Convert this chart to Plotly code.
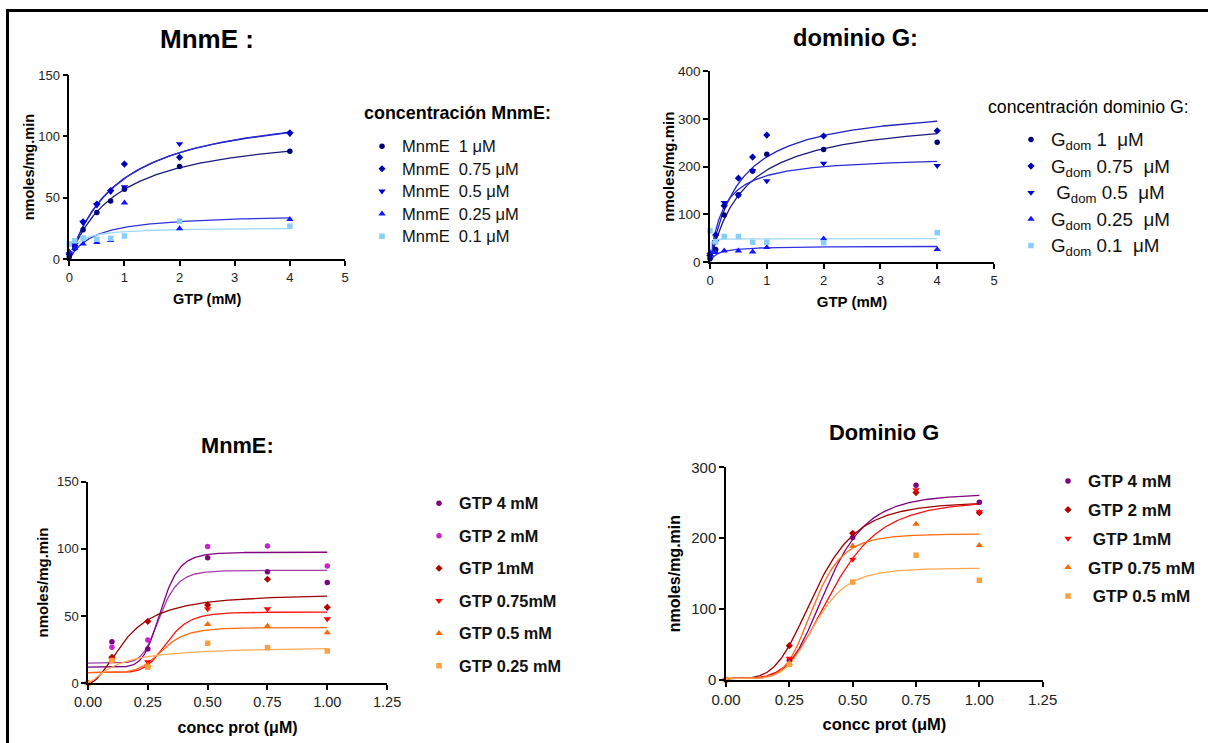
import numpy as np
import plotly.graph_objects as go

W, H = 1208, 743
FONT = "Arial, Liberation Sans, sans-serif"
NB = "\u00a0"

# ---------------- data: top panels (Michaelis-Menten) ----------------
gtp_mM = [0, 0.1, 0.25, 0.5, 0.75, 1, 2, 4]

mnme_names = ["MnmE" + NB*2 + "1" + NB + "μM", "MnmE" + NB*2 + "0.75" + NB + "μM",
              "MnmE" + NB*2 + "0.5" + NB + "μM", "MnmE" + NB*2 + "0.25" + NB + "μM",
              "MnmE" + NB*2 + "0.1" + NB + "μM"]
mnme_1uM = [2, 9, 24, 38, 47.5, 57, 75.5, 88]
mnme_075uM = [5, 11, 30.5, 45, 56, 77.5, 83, 103]
mnme_05uM = [3, 12, 30, 44, 55, 59, 94, 102]
mnme_025uM = [6, 9, 12.5, 13.8, 15.4, 46, 25, 32.5]
mnme_01uM = [12.5, 15, 17.3, 16.3, 17, 19, 31, 27]
mnme_vmax = [107.5, 126.7, 128, 37.5, 26]
mnme_km = [0.886, 0.919, 0.95, 0.444, 0.154]

gdom_names = ["G<sub>dom</sub>" + NB + "1" + NB*2 + "μM", "G<sub>dom</sub>" + NB + "0.75" + NB*2 + "μM",
              NB + "G<sub>dom</sub>" + NB + "0.5" + NB*2 + "μM", "G<sub>dom</sub>" + NB + "0.25" + NB*2 + "μM",
              "G<sub>dom</sub>" + NB + "0.1" + NB*2 + "μM"]
gdom_1uM = [8, 27, 99, 141, 191, 226, 236, 251]
gdom_075uM = [15, 57, 118, 176, 220, 266, 264, 275]
gdom_05uM = [12, 43, 125, 139, 191, 170, 207, 202]
gdom_025uM = [21, 21, 24, 24, 22, 31, 49.5, 27]
gdom_01uM = [66, 43, 54, 54, 42, 42, 41, 62]
gdom_vmax = [309.6, 332.6, 223.3, 34, 49.5]
gdom_km = [0.606, 0.51, 0.233, 0.12, 0.005]

blue_marker = ["#00007a", "#0000b4", "#0000d0", "#1515ff", "#87cefa"]
blue_line = ["#1a1a7a", "#1f1fc0", "#2a2ad0", "#3030e0", "#9fd8f8"]
top_symbols = ["circle", "diamond", "triangle-down", "triangle-up", "square"]

# ---------------- data: bottom panels (Hill) ----------------
prot_mnme = [0, 0.1, 0.25, 0.5, 0.75, 1.0]
bl_names = ["GTP 4 mM", "GTP 2 mM", "GTP 1mM", "GTP 0.75mM", "GTP 0.5 mM", "GTP 0.25 mM"]
bl_gtp4 = [0, 31, 25.5, 93.5, 83, 75]
bl_gtp2 = [0, 26.8, 32.2, 101.7, 102.2, 87.3]
bl_gtp1 = [0, 19.3, 46.1, 58.3, 77.4, 56.5]
bl_gtp075 = [0, 17.5, 16, 55.3, 55.3, 47.9]
bl_gtp05 = [0, 17, 13.6, 43.9, 42.6, 37.7]
bl_gtp025 = [0, 16.9, 12, 29.8, 26.5, 24]
bl_bottom = [15, 12, 0, 8, 8, 0]
bl_top = [84, 97.5, 66.5, 53, 41.5, 27.5]
bl_k = [0.30, 0.305, 0.16, 0.33, 0.31, 0.12]
bl_n = [8, 8, 2, 7, 6, 1.3]
bl_marker = ["#7f007f", "#cc22cc", "#b00000", "#ff0000", "#ff6600", "#ffa040"]
bl_line = ["#a040a8", "#800080", "#990000", "#ff1010", "#ff6a10", "#ffaa55"]
bl_symbols = ["circle", "circle", "diamond", "triangle-down", "triangle-up", "square"]

prot_gdom = [0, 0.25, 0.5, 0.75, 1.0]
br_names = ["GTP 4 mM", "GTP 2 mM", NB + "GTP 1mM", "GTP 0.75 mM", NB + "GTP 0.5 mM"]
br_gtp4 = [0, 28, 201, 274.6, 250.6]
br_gtp2 = [0, 48.4, 207, 264.3, 236]
br_gtp1 = [0, 30.6, 170.2, 268, 237]
br_gtp075 = [0, 23.5, 189, 220, 190]
br_gtp05 = [0, 22, 138.2, 176, 140.6]
br_bottom = [2, 2, 2, 2, 2]
br_top = [263, 252, 254, 206, 158]
br_k = [0.40, 0.355, 0.423, 0.345, 0.353]
br_n = [5, 4.2, 4.34, 6, 5.57]
br_marker = ["#7f007f", "#b00000", "#ff0000", "#ff6600", "#ffa040"]
br_line = ["#800080", "#a00000", "#ff1010", "#ff6a10", "#ffa850"]
br_symbols = ["circle", "diamond", "triangle-down", "triangle-up", "square"]

# axis ticks
top_x_ticks = [0, 1, 2, 3, 4, 5]
mnme_y_ticks = [0, 50, 100, 150]
gdom_y_ticks = [0, 100, 200, 300, 400]
bot_x_ticks = [0, 0.25, 0.5, 0.75, 1.0, 1.25]
bot_x_text = ["0.00", "0.25", "0.50", "0.75", "1.00", "1.25"]
bl_y_ticks = [0, 50, 100, 150]
br_y_ticks = [0, 100, 200, 300]


def px(x):
    return x / W


def py(y):
    return 1 - y / H


def mm(x, v, k):
    x = np.asarray(x)
    return v * x / (k + x)


def hill(x, b, t, k, n):
    x = np.asarray(x)
    r = np.power(x / k, n)
    return b + (t - b) * r / (1 + r)


def span(txt, size, bold=False):
    s = '<span style="font-size:%spx">%s</span>' % (size, txt)
    return "<b>%s</b>" % s if bold else s


def msize(sym):
    return {"circle": 5.5, "diamond": 5.5, "triangle-down": 6.5, "triangle-up": 6.5, "square": 5.5}[sym]


fig = go.Figure()

# ---- panel 1 ----
series1 = [mnme_1uM, mnme_075uM, mnme_05uM, mnme_025uM, mnme_01uM]
xf = np.linspace(0, 4, 300)
for i, ys in enumerate(series1):
    fig.add_trace(go.Scatter(x=xf, y=mm(xf, mnme_vmax[i], mnme_km[i]), mode="lines",
                             line=dict(color=blue_line[i], width=1.3), showlegend=False,
                             xaxis="x", yaxis="y", hoverinfo="skip"))
for i, ys in enumerate(series1):
    fig.add_trace(go.Scatter(x=gtp_mM, y=ys, mode="markers", name=span(mnme_names[i], 16.5),
                             marker=dict(symbol=top_symbols[i], color=blue_marker[i],
                                         size=msize(top_symbols[i])),
                             xaxis="x", yaxis="y", legend="legend", cliponaxis=False))

# ---- panel 2 ----
series2 = [gdom_1uM, gdom_075uM, gdom_05uM, gdom_025uM, gdom_01uM]
for i, ys in enumerate(series2):
    fig.add_trace(go.Scatter(x=xf, y=mm(xf, gdom_vmax[i], gdom_km[i]), mode="lines",
                             line=dict(color=blue_line[i], width=1.3), showlegend=False,
                             xaxis="x2", yaxis="y2", hoverinfo="skip"))
for i, ys in enumerate(series2):
    fig.add_trace(go.Scatter(x=gtp_mM, y=ys, mode="markers", name=span(gdom_names[i], 18.8),
                             marker=dict(symbol=top_symbols[i], color=blue_marker[i],
                                         size=msize(top_symbols[i])),
                             xaxis="x2", yaxis="y2", legend="legend2", legendgroup="g%d" % i,
                             cliponaxis=False))

# ---- panel 3 ----
series3 = [bl_gtp4, bl_gtp2, bl_gtp1, bl_gtp075, bl_gtp05, bl_gtp025]
xb = np.linspace(0, 1, 300)
for i, ys in enumerate(series3):
    fig.add_trace(go.Scatter(x=xb, y=hill(xb, bl_bottom[i], bl_top[i], bl_k[i], bl_n[i]), mode="lines",
                             line=dict(color=bl_line[i], width=1.3), showlegend=False,
                             xaxis="x3", yaxis="y3", hoverinfo="skip"))
for i, ys in enumerate(series3):
    fig.add_trace(go.Scatter(x=prot_mnme, y=ys, mode="markers", name=span(bl_names[i], 16.3, True),
                             marker=dict(symbol=bl_symbols[i], color=bl_marker[i],
                                         size=msize(bl_symbols[i])),
                             xaxis="x3", yaxis="y3", legend="legend3", legendgroup="b%d" % i,
                             cliponaxis=False))

# ---- panel 4 ----
series4 = [br_gtp4, br_gtp2, br_gtp1, br_gtp075, br_gtp05]
for i, ys in enumerate(series4):
    fig.add_trace(go.Scatter(x=xb, y=hill(xb, br_bottom[i], br_top[i], br_k[i], br_n[i]), mode="lines",
                             line=dict(color=br_line[i], width=1.3), showlegend=False,
                             xaxis="x4", yaxis="y4", hoverinfo="skip"))
for i, ys in enumerate(series4):
    fig.add_trace(go.Scatter(x=prot_gdom, y=ys, mode="markers", name=span(br_names[i], 17.1, True),
                             marker=dict(symbol=br_symbols[i], color=br_marker[i],
                                         size=msize(br_symbols[i])),
                             xaxis="x4", yaxis="y4", legend="legend4", legendgroup="r%d" % i,
                             cliponaxis=False))


def axis(domain, rng, tickvals, ticktext=None, title=None, tsize=13, titlesize=14.5, standoff=8,
         anchor=None):
    d = dict(domain=domain, range=rng, tickmode="array", tickvals=tickvals,
             showline=True, linecolor="black", linewidth=1.5, ticks="outside", ticklen=5,
             tickwidth=1.5, tickcolor="black", showgrid=False, zeroline=False,
             tickfont=dict(family=FONT, size=tsize, color="#222"), fixedrange=True,
             automargin=False)
    if ticktext is not None:
        d["ticktext"] = ticktext
    if title:
        d["title"] = dict(text="<b>%s</b>" % title, standoff=standoff,
                          font=dict(family=FONT, size=titlesize, color="black"))
    if anchor:
        d["anchor"] = anchor
    return d


def note(text, x, y, size, anchor="center"):
    return dict(text=text, x=px(x), y=py(y), xref="paper", yref="paper", showarrow=False,
                xanchor=anchor, yanchor="middle", font=dict(family=FONT, size=size, color="black"))


layout = dict(
    width=W, height=H, margin=dict(l=0, r=0, t=0, b=0),
    paper_bgcolor="white", plot_bgcolor="white", font=dict(family=FONT, color="black"),
    # panel 1
    xaxis=axis([px(69.3), px(345)], [0, 5], top_x_ticks, title="GTP (mM)", standoff=10, anchor="y"),
    yaxis=axis([py(259.3), py(75)], [0, 150], mnme_y_ticks, title="nmoles/mg.min", standoff=0, anchor="x"),
    # panel 2
    xaxis2=axis([px(710), px(994)], [0, 5], top_x_ticks, title="GTP (mM)", standoff=10, anchor="y2",
                titlesize=15),
    yaxis2=axis([py(262.3), py(71)], [0, 400], gdom_y_ticks, title="nmoles/mg.min", standoff=0,
                anchor="x2", tsize=13.5, titlesize=15),
    # panel 3
    xaxis3=axis([px(88), px(387.1)], [0, 1.25], bot_x_ticks, bot_x_text, title="concc prot (μM)",
                standoff=12, anchor="y3", tsize=14.5, titlesize=16),
    yaxis3=axis([py(683.3), py(481.7)], [0, 150], bl_y_ticks, title="nmoles/mg.min", standoff=5,
                anchor="x3", tsize=13, titlesize=15),
    # panel 4
    xaxis4=axis([px(726), px(1042.7)], [0, 1.25], bot_x_ticks, bot_x_text, title="concc prot (μM)",
                standoff=12, anchor="y4", tsize=15, titlesize=16.5),
    yaxis4=axis([py(680), py(467.3)], [0, 300], br_y_ticks, title="nmoles/mg.min", standoff=7,
                anchor="x4", tsize=15, titlesize=16),
    legend=dict(x=px(362), y=py(130), xanchor="left", yanchor="top", bgcolor="rgba(0,0,0,0)",
                font=dict(family=FONT, size=15, color="#111"), borderwidth=0, tracegroupgap=0),
    legend2=dict(x=px(1011), y=py(122), xanchor="left", yanchor="top", bgcolor="rgba(0,0,0,0)",
                 font=dict(family=FONT, size=17, color="#111"), borderwidth=0, tracegroupgap=1.4),
    legend3=dict(x=px(419), y=py(487), xanchor="left", yanchor="top", bgcolor="rgba(0,0,0,0)",
                 font=dict(family=FONT, size=15, color="#111"), borderwidth=0, tracegroupgap=10),
    legend4=dict(x=px(1048), y=py(464), xanchor="left", yanchor="top", bgcolor="rgba(0,0,0,0)",
                 font=dict(family=FONT, size=16, color="#111"), borderwidth=0, tracegroupgap=5),
    shapes=[dict(type="rect", xref="paper", yref="paper", x0=px(7.5), y0=py(10.5), x1=1.05, y1=-0.05,
                 line=dict(color="black", width=3), fillcolor="rgba(0,0,0,0)", layer="above")],
    annotations=[
        note("<b>MnmE :</b>", 207, 39, 26),
        note("<b>dominio G:</b>", 855, 38, 23.7),
        note("<b>MnmE:</b>", 237, 445, 21.8),
        note("<b>Dominio G</b>", 884, 432, 21.8),
        note("<b>concentración MnmE:</b>", 362, 113, 17.9, "left"),
        note("concentración dominio G:", 986, 107, 17.7, "left"),
    ],
)
fig.update_layout(**layout)
fig.write_html("out.html")
